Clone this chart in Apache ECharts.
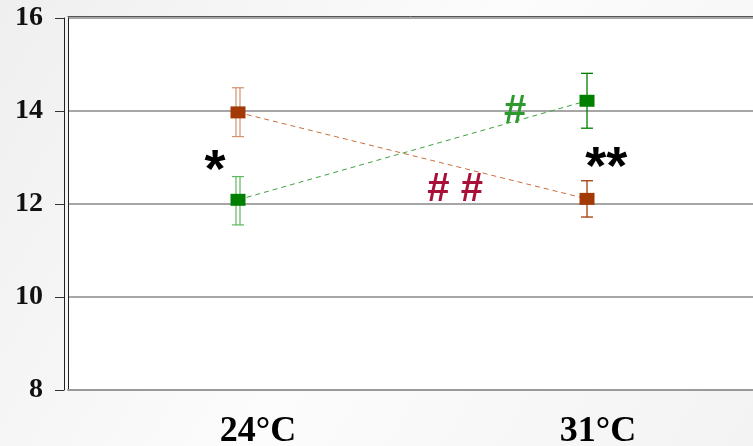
<!DOCTYPE html>
<html><head><meta charset="utf-8">
<script src="https://cdn.jsdelivr.net/npm/echarts@6/dist/echarts.min.js"></script>
<style>html,body{margin:0;padding:0;}#c{width:753px;height:446px;}</style>
</head><body><div id="c"></div>
<script>
// ---- data ----
const categories = ['24°C', '31°C'];
const yTicks = [8, 10, 12, 14, 16];
const brownMean = [13.97, 12.11];
const brownLow  = [13.45, 11.72];
const brownHigh = [14.50, 12.50];
const greenMean = [12.09, 14.22];
const greenLow  = [11.55, 13.63];
const greenHigh = [12.59, 14.81];
const annotationText = ['*', '**', '#', '# #'];
const annotationX = [-0.066, 1.055, 0.794, 0.622];
const annotationY = [12.68, 12.76, 13.98, 12.3];

const BROWN = '#a33a06', BROWN_LIGHT = '#d4906c', BROWN_LINE = '#c8703c';
const GREEN = '#008000', GREEN_LIGHT = '#5cb85c', GREEN_LINE = '#3fa33f';
const annColors = ['#000000', '#000000', '#2e9a2e', '#a8103a'];

const chart = echarts.init(document.getElementById('c'));

function errRender(lightColor, darkColor) {
  return function (params, api) {
    const i = api.value(0);
    const top = api.coord([i, api.value(2)]);
    const bot = api.coord([i, api.value(1)]);
    const x = top[0];
    const children = [];
    if (i === 0) {
      [-2, 2].forEach(function (d) {
        children.push({type: 'line', shape: {x1: x + d, y1: top[1], x2: x + d, y2: bot[1]}, style: {stroke: lightColor, lineWidth: 1.2}});
      });
      children.push({type: 'line', shape: {x1: x - 6, y1: top[1], x2: x + 6, y2: top[1]}, style: {stroke: lightColor, lineWidth: 1.2}});
      children.push({type: 'line', shape: {x1: x - 6, y1: bot[1], x2: x + 6, y2: bot[1]}, style: {stroke: lightColor, lineWidth: 1.2}});
    } else {
      children.push({type: 'line', shape: {x1: x, y1: top[1], x2: x, y2: bot[1]}, style: {stroke: darkColor, lineWidth: 1.3}});
      children.push({type: 'line', shape: {x1: x - 6, y1: top[1], x2: x + 6, y2: top[1]}, style: {stroke: darkColor, lineWidth: 1.3}});
      children.push({type: 'line', shape: {x1: x - 6, y1: bot[1], x2: x + 6, y2: bot[1]}, style: {stroke: darkColor, lineWidth: 1.3}});
    }
    return {type: 'group', children: children};
  };
}

const option = {
  animation: false,
  backgroundColor: {
    type: 'linear', x: 0, y: 0, x2: 1, y2: 1,
    colorStops: [{offset: 0, color: '#efefef'}, {offset: 0.5, color: '#fcfcfc'}, {offset: 1, color: '#f3f3f3'}]
  },
  grid: {left: 68, right: 0, top: 18, bottom: 56, show: true, backgroundColor: '#ffffff', borderWidth: 0,
         outerBoundsMode: 'none', containLabel: false},
  xAxis: [
    {
      type: 'value', min: -0.4871, max: 1.4756,
      axisLine: {show: true, onZero: false, lineStyle: {color: '#9a9a9a', width: 2}},
      axisTick: {show: false}, axisLabel: {show: false}, splitLine: {show: false}
    },
    {
      type: 'value', min: -0.559, max: 1.456, position: 'bottom',
      axisLine: {show: false, onZero: false}, axisTick: {show: false}, splitLine: {show: false},
      axisLabel: {
        customValues: [0, 1],
        formatter: function (v) { return categories[Math.round(v)] || ''; },
        fontFamily: 'Liberation Serif', fontWeight: 'bold', fontSize: 36, color: '#000', margin: 24
      }
    },
    {
      type: 'value', min: 0, max: 1, position: 'top', offset: 2,
      axisLine: {show: true, onZero: false, lineStyle: {color: '#555', width: 1}},
      axisTick: {show: false}, axisLabel: {show: false}, splitLine: {show: false}
    }
  ],
  yAxis: [
    {
      type: 'value', min: yTicks[0], max: yTicks[yTicks.length - 1], interval: 2,
      axisLine: {show: true, onZero: false, lineStyle: {color: '#222', width: 1}},
      axisTick: {show: false},
      axisLabel: {show: false},
      splitLine: {show: true, lineStyle: {color: '#a6a6a6', width: 2}}
    },
    {
      type: 'value', min: yTicks[0], max: yTicks[yTicks.length - 1], interval: 2, position: 'left', offset: 4,
      axisLine: {show: true, onZero: false, lineStyle: {color: '#222', width: 1}},
      axisTick: {show: true, length: 9, lineStyle: {color: '#333', width: 1}},
      axisLabel: {fontFamily: 'Liberation Serif', fontWeight: 'bold', fontSize: 28, color: '#111', margin: 21},
      splitLine: {show: false}
    }
  ],
  series: [
    {
      type: 'line', xAxisIndex: 0, yAxisIndex: 0,
      data: brownMean.map(function (v, i) { return [i, v]; }),
      symbol: 'rect', symbolSize: [15, 12],
      itemStyle: {color: BROWN},
      lineStyle: {color: BROWN_LINE, width: 1, type: [5, 4]}, z: 5
    },
    {
      type: 'line', xAxisIndex: 0, yAxisIndex: 0,
      data: greenMean.map(function (v, i) { return [i, v]; }),
      symbol: 'rect', symbolSize: [15, 12],
      itemStyle: {color: GREEN},
      lineStyle: {color: GREEN_LINE, width: 1, type: [5, 4]}, z: 5
    },
    {
      type: 'custom', xAxisIndex: 0, yAxisIndex: 0,
      data: brownLow.map(function (v, i) { return [i, v, brownHigh[i]]; }),
      renderItem: errRender(BROWN_LIGHT, BROWN), z: 4
    },
    {
      type: 'custom', xAxisIndex: 0, yAxisIndex: 0,
      data: greenLow.map(function (v, i) { return [i, v, greenHigh[i]]; }),
      renderItem: errRender(GREEN_LIGHT, GREEN), z: 4
    },
    {
      type: 'scatter', xAxisIndex: 0, yAxisIndex: 0, symbolSize: 0, z: 6,
      data: annotationText.map(function (t, i) {
        return {
          value: [annotationX[i], annotationY[i]],
          label: {
            show: true, position: 'inside', formatter: t,
            color: annColors[i], textBorderWidth: 0, opacity: 1,
            fontFamily: 'Liberation Sans', fontWeight: 'bold',
            fontSize: i < 2 ? 54 : 40
          }
        };
      })
    }
  ]
};
chart.setOption(option);
</script>
</body></html>
